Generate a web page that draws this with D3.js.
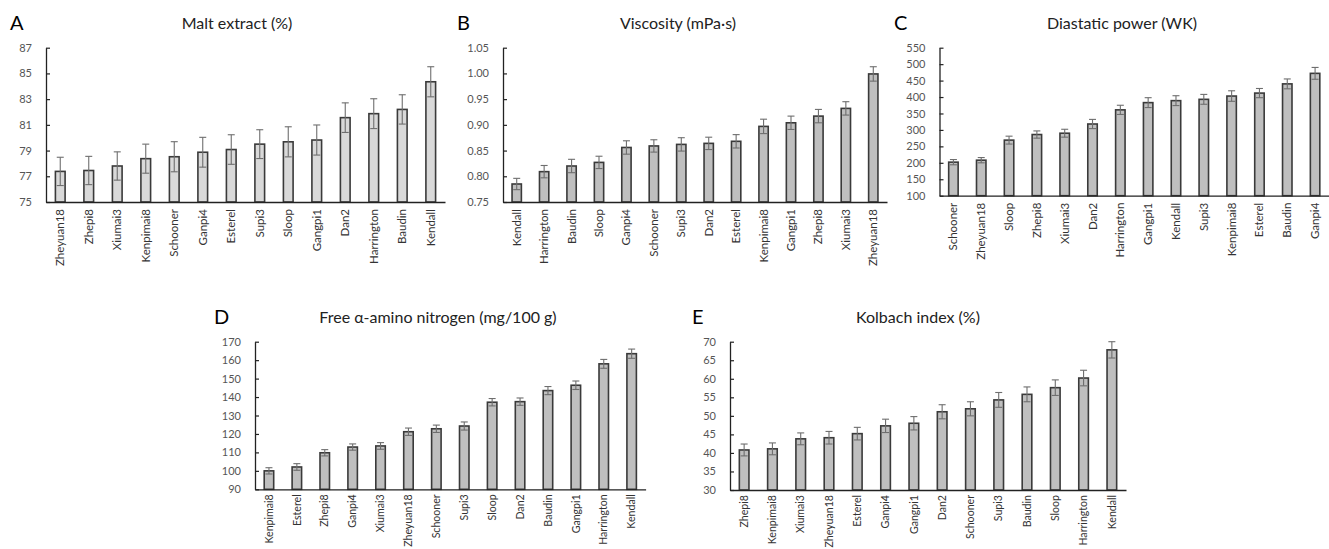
<!DOCTYPE html>
<html>
<head>
<meta charset="utf-8">
<script src="https://cdn.jsdelivr.net/npm/d3@7"></script>
<style>
  html, body { margin: 0; padding: 0; background: #fff; }
  svg { display: block; font-family: Lato, "Open Sans", sans-serif; }
</style>
</head>
<body>
<svg id="chart" width="1329" height="549"></svg>
<script>
// ---------- DATA ----------
const maltCats = ["Zheyuan18","Zhepi8","Xiumai3","Kenpimai8","Schooner","Ganpi4","Esterel","Supi3","Sloop","Gangpi1","Dan2","Harrington","Baudin","Kendall"];
const maltVals = [77.38, 77.45, 77.8, 78.37, 78.52, 78.87, 79.08, 79.5, 79.68, 79.82, 81.56, 81.87, 82.2, 84.35];
const maltErr  = [1.1, 1.1, 1.1, 1.13, 1.17, 1.16, 1.15, 1.12, 1.17, 1.17, 1.15, 1.16, 1.14, 1.17];
const maltTicks = [75, 77, 79, 81, 83, 85, 87];

const viscCats = ["Kendall","Harrington","Baudin","Sloop","Ganpi4","Schooner","Supi3","Dan2","Esterel","Kenpimai8","Gangpi1","Zhepi8","Xiumai3","Zheyuan18"];
const viscVals = [0.785, 0.809, 0.820, 0.827, 0.856, 0.859, 0.862, 0.864, 0.868, 0.897, 0.904, 0.917, 0.932, 0.999];
const viscErr  = [0.011, 0.012, 0.013, 0.012, 0.013, 0.012, 0.013, 0.012, 0.013, 0.014, 0.013, 0.013, 0.013, 0.014];
const viscTicks = [0.75, 0.80, 0.85, 0.90, 0.95, 1.00, 1.05];

const dpCats = ["Schooner","Zheyuan18","Sloop","Zhepi8","Xiumai3","Dan2","Harrington","Gangpi1","Kendall","Supi3","Kenpimai8","Esterel","Baudin","Ganpi4"];
const dpVals = [202, 208, 269, 286, 290, 318, 361, 383, 389, 393, 403, 412, 440, 472];
const dpErr  = [8, 8, 12, 11, 12, 14, 14, 15, 15, 15, 16, 14, 15, 18];
const dpTicks = [100, 150, 200, 250, 300, 350, 400, 450, 500, 550];

const fanCats = ["Kenpimai8","Esterel","Zhepi8","Ganpi4","Xiumai3","Zheyuan18","Schooner","Supi3","Sloop","Dan2","Baudin","Gangpi1","Harrington","Kendall"];
const fanVals = [100.0, 102.1, 109.8, 112.9, 113.5, 121.2, 122.8, 124.3, 137.2, 137.5, 143.5, 146.4, 158.0, 163.5];
const fanErr  = [1.7, 1.8, 1.7, 1.7, 1.8, 2.0, 2.0, 2.2, 2.0, 2.0, 2.2, 2.3, 2.4, 2.5];
const fanTicks = [90, 100, 110, 120, 130, 140, 150, 160, 170];

const kiCats = ["Zhepi8","Kenpimai8","Xiumai3","Zheyuan18","Esterel","Ganpi4","Gangpi1","Dan2","Schooner","Supi3","Baudin","Sloop","Harrington","Kendall"];
const kiVals = [40.8, 41.1, 43.8, 44.1, 45.2, 47.3, 48.0, 51.1, 51.9, 54.3, 55.8, 57.6, 60.2, 67.8];
const kiErr  = [1.6, 1.6, 1.6, 1.7, 1.7, 1.8, 1.8, 1.9, 1.9, 2.0, 2.0, 2.1, 2.1, 2.2];
const kiTicks = [30, 35, 40, 45, 50, 55, 60, 65, 70];

// ---------- LAYOUT ----------
const svg = d3.select("#chart");

const panels = [
  { letter: "A", title: "Malt extract (%)", cats: maltCats, vals: maltVals, err: maltErr, ticks: maltTicks, fmt: d3.format("d"),
    x0: 46, x1: 445, yTop: 47.7, yBase: 202, fill: "#d9d9d9", letterX: 10, titleX: 237, textY: 30, labelSize: 11.5, labelGap: 7 },
  { letter: "B", title: "Viscosity (mPa·s)", cats: viscCats, vals: viscVals, err: viscErr, ticks: viscTicks, fmt: d3.format(".2f"),
    x0: 503, x1: 887, yTop: 47.7, yBase: 202, fill: "#bfbfbf", letterX: 457, titleX: 678, textY: 30, labelSize: 11.5, labelGap: 7 },
  { letter: "C", title: "Diastatic power (WK)", cats: dpCats, vals: dpVals, err: dpErr, ticks: dpTicks, fmt: d3.format("d"),
    x0: 939.5, x1: 1329, yTop: 47.7, yBase: 195.7, fill: "#bfbfbf", letterX: 894, titleX: 1122, textY: 30, labelSize: 11.5, labelGap: 7 },
  { letter: "D", title: "Free α-amino nitrogen (mg/100 g)", cats: fanCats, vals: fanVals, err: fanErr, ticks: fanTicks, fmt: d3.format("d"),
    x0: 255, x1: 645.6, yTop: 341.7, yBase: 489.3, fill: "#bfbfbf", letterX: 214, titleX: 438, textY: 324, labelSize: 10.6, labelGap: 5 },
  { letter: "E", title: "Kolbach index (%)", cats: kiCats, vals: kiVals, err: kiErr, ticks: kiTicks, fmt: d3.format("d"),
    x0: 730, x1: 1126, yTop: 341.7, yBase: 490, fill: "#bfbfbf", letterX: 692, titleX: 918, textY: 324, labelSize: 10.6, labelGap: 5 }
];

function drawPanel(p) {
  const g = svg.append("g");
  const x = d3.scaleBand().domain(p.cats).range([p.x0, p.x1]).paddingInner(0.66).paddingOuter(0.33);
  const y = d3.scaleLinear().domain([p.ticks[0], p.ticks[p.ticks.length - 1]]).range([p.yBase, p.yTop]);

  // panel letter and title
  g.append("text").attr("x", p.letterX).attr("y", p.textY)
    .attr("font-size", 20).attr("fill", "#000").text(p.letter);
  g.append("text").attr("x", p.titleX).attr("y", p.textY - 1)
    .attr("text-anchor", "middle").attr("font-size", 16).attr("fill", "#222").text(p.title);

  // bars
  const data = p.cats.map((c, i) => ({ c, v: p.vals[i], e: p.err[i] }));
  g.selectAll("rect.bar").data(data).enter().append("rect")
    .attr("x", d => x(d.c))
    .attr("width", x.bandwidth())
    .attr("y", d => y(d.v))
    .attr("height", d => y(p.ticks[0]) - y(d.v))
    .attr("fill", p.fill)
    .attr("stroke", "#3a3a3a")
    .attr("stroke-width", 1.6);

  // error bars
  const eg = g.selectAll("g.err").data(data).enter().append("g")
    .attr("stroke", "#6e6e6e").attr("stroke-width", 1.1).attr("fill", "none");
  const cap = 3.5;
  eg.append("line")
    .attr("x1", d => x(d.c) + x.bandwidth() / 2).attr("x2", d => x(d.c) + x.bandwidth() / 2)
    .attr("y1", d => y(d.v - d.e)).attr("y2", d => y(d.v + d.e));
  eg.append("line")
    .attr("x1", d => x(d.c) + x.bandwidth() / 2 - cap).attr("x2", d => x(d.c) + x.bandwidth() / 2 + cap)
    .attr("y1", d => y(d.v + d.e)).attr("y2", d => y(d.v + d.e));
  eg.append("line")
    .attr("x1", d => x(d.c) + x.bandwidth() / 2 - cap).attr("x2", d => x(d.c) + x.bandwidth() / 2 + cap)
    .attr("y1", d => y(d.v - d.e)).attr("y2", d => y(d.v - d.e));

  // y axis (inside ticks)
  const yAxis = d3.axisLeft(y).tickValues(p.ticks).tickFormat(p.fmt).tickSizeInner(-4).tickSizeOuter(0).tickPadding(14);
  const ya = g.append("g").attr("transform", `translate(${p.x0},0)`).call(yAxis);
  ya.select(".domain").attr("stroke", "#222").attr("stroke-width", 1.3);
  ya.selectAll(".tick line").attr("stroke", "#222").attr("stroke-width", 1.2);
  ya.selectAll(".tick text").attr("font-size", 11).attr("fill", "#555").attr("font-family", "Lato, 'Open Sans', sans-serif");

  // x axis
  const xAxis = d3.axisBottom(x).tickSize(0).tickSizeOuter(0).tickPadding(0);
  const xa = g.append("g").attr("transform", `translate(0,${p.yBase})`).call(xAxis);
  xa.select(".domain").attr("stroke", "#222").attr("stroke-width", 1.3);
  xa.selectAll(".tick text")
    .attr("font-size", p.labelSize).attr("fill", "#333").attr("font-family", "Lato, 'Open Sans', sans-serif")
    .attr("text-anchor", "end")
    .attr("transform", "rotate(-90)")
    .attr("x", -p.labelGap).attr("y", 0).attr("dy", "0.35em");
}

panels.forEach(drawPanel);
</script>
</body>
</html>
